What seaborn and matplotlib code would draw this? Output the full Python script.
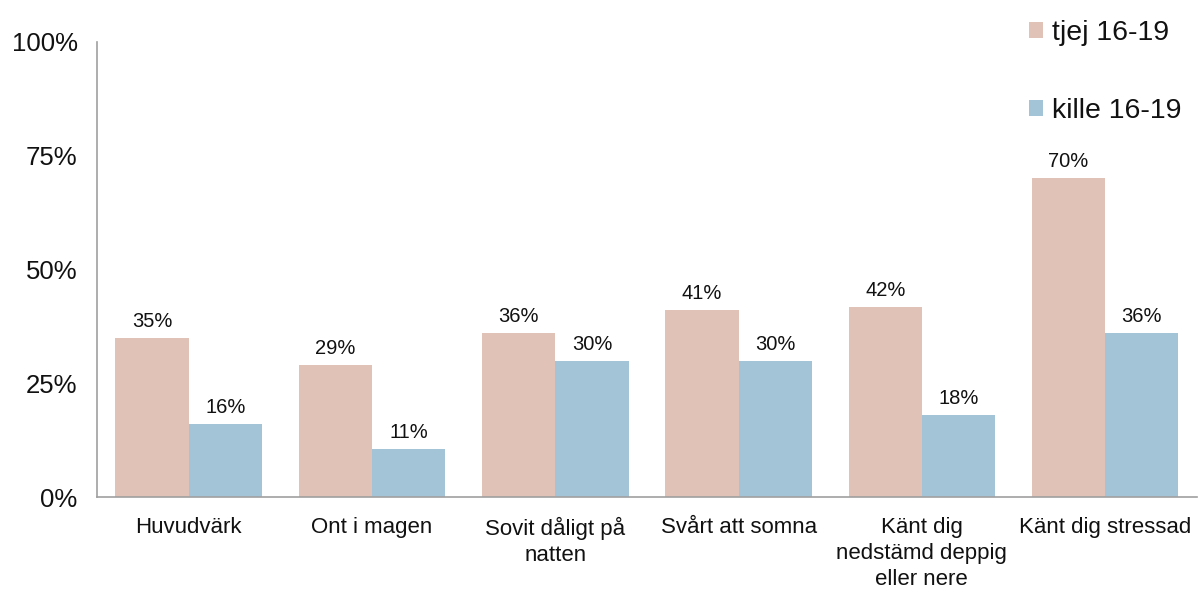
import pandas as pd
import seaborn as sns
import matplotlib.pyplot as plt
from matplotlib.patches import Patch

categories = ["Huvudvärk", "Ont i magen", "Sovit dåligt på\nnatten", "Svårt att somna",
              "Känt dig\nnedstämd deppig\neller nere", "Känt dig stressad"]
series = ["tjej 16-19", "kille 16-19"]
tjej = [35, 29, 36, 41, 41.8, 70]
kille = [16, 10.6, 30, 30, 18, 36]
yticks = [0, 25, 50, 75, 100]
colors = ["#E0C2B7", "#A3C4D7"]

df = pd.DataFrame({
    "cat": categories * 2,
    "grupp": [series[0]] * len(categories) + [series[1]] * len(categories),
    "val": tjej + kille,
})

sns.set_style("white")
plt.rcParams["font.family"] = ["Liberation Sans", "DejaVu Sans"]

fig = plt.figure(figsize=(11.98, 5.89), dpi=100)
ax = fig.add_axes([0.081, 0.156, 0.918, 0.773])

sns.barplot(data=df, x="cat", y="val", hue="grupp", palette=colors, width=0.8,
            linewidth=0, saturation=1, ax=ax, legend=False)

for cont in ax.containers:
    ax.bar_label(cont, labels=[f"{b.get_height():.0f}%" for b in cont],
                 padding=5, fontsize=14.5, color="#111111")

ax.set_ylim(0, 100)
ax.set_xlim(-0.5, len(categories) - 0.5)
ax.set_yticks(yticks)
ax.set_yticklabels([f"{t}%" for t in yticks], fontsize=18.5, color="#111111")
ax.set_xticks(range(len(categories)))
ax.set_xticklabels(categories, fontsize=16, color="#111111", linespacing=1.32)
ax.set_xticks([i - 0.5 for i in range(len(categories) + 1)], minor=True)
ax.tick_params(axis="x", which="major", length=0, pad=14)
ax.tick_params(axis="x", which="minor", length=6, color="#A0A0A0", width=1.2, direction="out")
ax.tick_params(axis="y", length=6, color="#A0A0A0", width=1.2, direction="out", pad=8)
ax.set_xlabel("")
ax.set_ylabel("")
for s in ["top", "right"]:
    ax.spines[s].set_visible(False)
for s in ["left", "bottom"]:
    ax.spines[s].set_color("#A0A0A0")
    ax.spines[s].set_linewidth(1.2)

handles = [Patch(facecolor=c, edgecolor="none") for c in colors]
fig.legend(handles, series, loc="upper left", bbox_to_anchor=(0.859, 0.966),
           frameon=False, fontsize=20.5, handlelength=0.5, handleheight=0.5,
           handletextpad=0.3, labelspacing=1.82, borderpad=0, borderaxespad=0,
           labelcolor="#111111")

fig.savefig("out.png", dpi=100)
